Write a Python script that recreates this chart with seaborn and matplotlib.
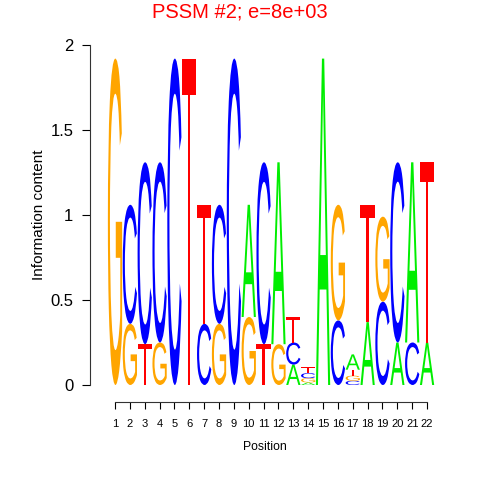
import matplotlib
matplotlib.use('Agg')
import matplotlib.pyplot as plt
import seaborn as sns
import numpy as np
from matplotlib.textpath import TextPath
from matplotlib.patches import PathPatch
from matplotlib.font_manager import FontProperties
from matplotlib.transforms import Affine2D

# Данные логотипа: высота каждой буквы (бит) по позициям 1..22
positions = list(range(1, 23))
height_A = [0, 0, 0, 0, 0, 0, 0, 0, 0, 0.66, 0, 1.07, 0.12, 0.015, 1.92, 0, 0.09, 0.37, 0, 0.25, 1.06, 0.25]
height_C = [0, 0.70, 1.07, 1.06, 1.92, 0, 0.36, 0.70, 1.92, 0, 1.07, 0, 0.13, 0.03, 0, 0.38, 0.025, 0, 0.49, 1.06, 0.25, 0]
height_G = [1.92, 0.36, 0, 0.25, 0, 0, 0, 0.36, 0, 0.40, 0, 0.24, 0, 0.025, 0, 0.68, 0.03, 0, 0.50, 0, 0, 0]
height_T = [0, 0, 0.24, 0, 0, 1.92, 0.70, 0, 0, 0, 0.24, 0, 0.15, 0.035, 0, 0, 0.035, 0.69, 0, 0, 0, 1.06]
letters = ['A', 'C', 'G', 'T']
colors = {'A': '#00ee00', 'C': '#0000ff', 'G': '#ffa500', 'T': '#ff0000'}
title = 'PSSM #2; e=8e+03'

sns.set_style('white')
plt.rcParams['font.family'] = ['Liberation Sans', 'DejaVu Sans']

fig = plt.figure(figsize=(4.8, 4.8), dpi=100)
ax = fig.add_axes([90 / 480, 95 / 480, 350 / 480, 340 / 480])

font = FontProperties(family='Liberation Sans', weight='normal')


def draw_letter(ch, x, y0, h, w=0.96):
    tp = TextPath((0, 0), ch, size=1, prop=font)
    bb = tp.get_extents()
    tr = Affine2D().translate(-bb.x0, -bb.y0).scale(w / bb.width, h / bb.height).translate(x - w / 2, y0)
    ax.add_patch(PathPatch(tr.transform_path(tp), facecolor=colors[ch], edgecolor='none'))


heights = {'A': height_A, 'C': height_C, 'G': height_G, 'T': height_T}
for i, pos in enumerate(positions):
    col = sorted([(heights[l][i], l) for l in letters if heights[l][i] > 0])
    y = 0
    for h, l in col:
        draw_letter(l, pos, y, h)
        y += h

ax.set_xlim(1 - 25 / 14.86, 1 + 325 / 14.86)
ax.set_ylim(0, 2)
ax.set_xticks(positions)
ax.set_yticks([0, 0.5, 1, 1.5, 2])
ax.set_yticklabels(['0', '0.5', '1', '1.5', '2'])
ax.tick_params(axis='y', labelsize=12, length=6, width=0.8, pad=6, left=True, colors='black')
ax.tick_params(axis='x', labelsize=8, length=5, width=0.8, pad=7, bottom=True, colors='black')
for s in ['top', 'right']:
    ax.spines[s].set_visible(False)
ax.spines['bottom'].set_position(('outward', 12.2))
ax.spines['bottom'].set_bounds(1, 22)
ax.spines['left'].set_bounds(0, 2)
for s in ['left', 'bottom']:
    ax.spines[s].set_color('#333333')
    ax.spines[s].set_linewidth(0.8)
ax.set_xlabel('Position', fontsize=8.8, labelpad=9, color='black')
ax.set_ylabel('Information content', fontsize=11, labelpad=3, color='black')
fig.text(0.5, 1 - 12 / 480, title, color='red', fontsize=14.5, ha='center', va='center')

fig.savefig('out.png', dpi=100)
